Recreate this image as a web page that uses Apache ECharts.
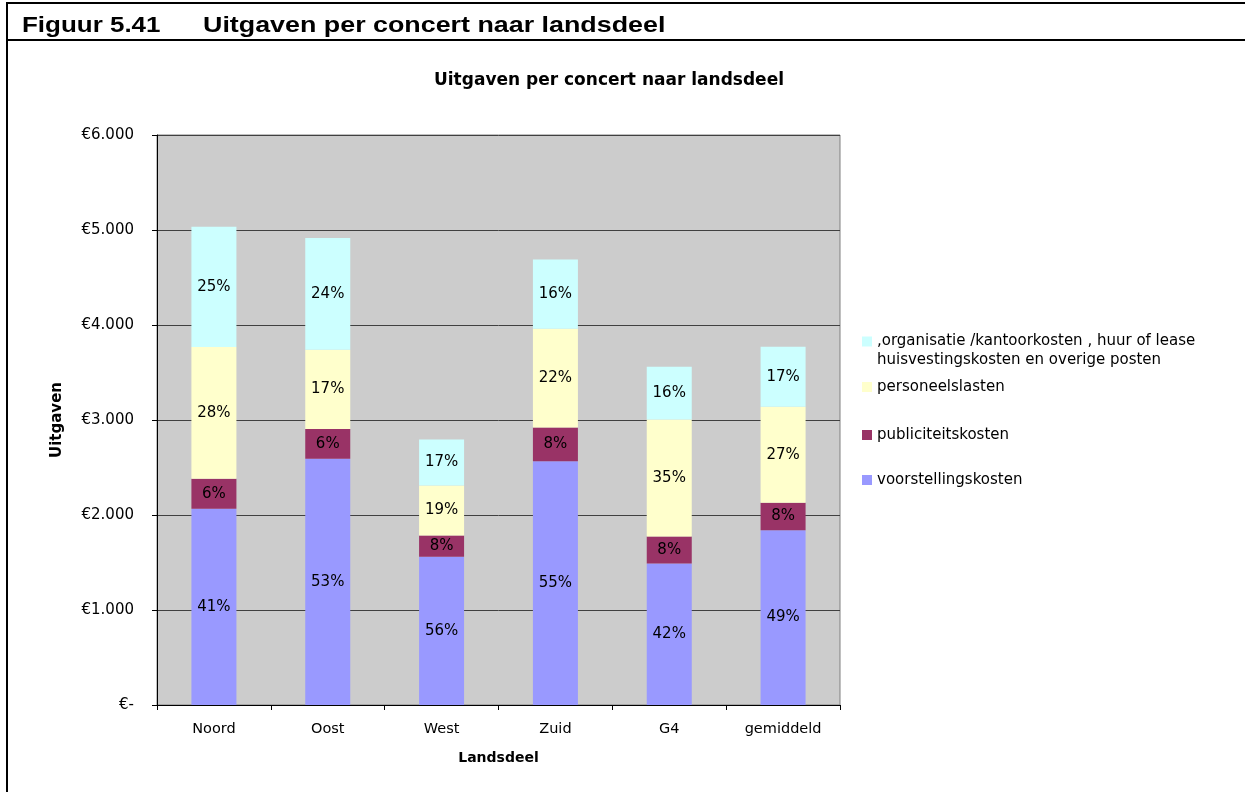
<!DOCTYPE html>
<html>
<head>
<meta charset="utf-8">
<script src="https://cdn.jsdelivr.net/npm/echarts@6/dist/echarts.min.js"></script>
<style>
html,body{margin:0;padding:0;background:#fff;}
#chart{width:1245px;height:792px;}
</style>
</head>
<body>
<div id="chart"></div>
<script>
const categories = ['Noord', 'Oost', 'West', 'Zuid', 'G4', 'gemiddeld'];
const voorstellingskosten = [2066, 2593, 1560, 2565, 1490, 1840];
const publiciteitskosten = [316, 312, 225, 355, 285, 290];
const personeelslasten = [1386, 835, 525, 1040, 1230, 1010];
const organisatiekosten = [1267, 1176, 485, 730, 555, 630];
const seriesNames = [
  'voorstellingskosten',
  'publiciteitskosten',
  'personeelslasten',
  ',organisatie /kantoorkosten , huur of lease\nhuisvestingskosten en overige posten'
];
const seriesColors = ['#9999FF', '#993366', '#FFFFCC', '#CCFFFF'];
const yMin = 0, yMax = 6000, yStep = 1000;

const seriesData = [voorstellingskosten, publiciteitskosten, personeelslasten, organisatiekosten];
const totals = categories.map((c, i) => seriesData.reduce((s, arr) => s + arr[i], 0));

const FONT = 'DejaVu Sans, Verdana, sans-serif';

const chart = echarts.init(document.getElementById('chart'), null, {renderer: 'canvas'});

const series = seriesData.map((arr, k) => ({
  name: seriesNames[k],
  type: 'bar',
  stack: 'total',
  barWidth: 45,
  data: arr,
  itemStyle: {color: seriesColors[k]},
  label: {
    show: true,
    position: 'inside',
    color: '#000',
    fontFamily: FONT,
    fontSize: 15,
    formatter: p => Math.round(p.value / totals[p.dataIndex] * 100) + '%'
  },
  emphasis: {disabled: true}
}));

function legendAt(name, top, extra) {
  return Object.assign({
    data: [name],
    orient: 'vertical',
    left: 862,
    top: top,
    padding: 0,
    icon: 'rect',
    itemWidth: 10,
    itemHeight: 10,
    selectedMode: false,
    textStyle: {color: '#000', fontFamily: FONT, fontSize: 15, lineHeight: 16}
  }, extra || {});
}

const option = {
  backgroundColor: '#fff',
  animation: false,
  graphic: [
    {type: 'rect', shape: {x: 7, y: 3, width: 1300, height: 900}, style: {fill: 'none', stroke: '#000', lineWidth: 2}, silent: true},
    {type: 'line', shape: {x1: 7, y1: 40, x2: 1245, y2: 40}, style: {stroke: '#000', lineWidth: 2}, silent: true},
    {type: 'text', x: 22, y: 26, scaleX: 1.18, style: {text: 'Figuur 5.41', font: 'bold 22px "Liberation Sans", Arial, sans-serif', fill: '#000', align: 'left', verticalAlign: 'middle', textAlign: 'left', textVerticalAlign: 'middle'}, silent: true},
    {type: 'text', x: 203, y: 26, scaleX: 1.22, style: {text: 'Uitgaven per concert naar landsdeel', font: 'bold 22px "Liberation Sans", Arial, sans-serif', fill: '#000', align: 'left', verticalAlign: 'middle', textAlign: 'left', textVerticalAlign: 'middle'}, silent: true},
    {type: 'text', x: 609, y: 81, style: {text: 'Uitgaven per concert naar landsdeel', font: 'bold 17px ' + FONT, fill: '#000', align: 'center', verticalAlign: 'middle', textAlign: 'center', textVerticalAlign: 'middle'}, silent: true}
  ],
  legend: [
    legendAt(seriesNames[3], 313, {
      formatter: n => '\n' + n,
      textStyle: {color: '#000', fontFamily: FONT, fontSize: 15, lineHeight: 19}
    }),
    legendAt(seriesNames[2], 379),
    legendAt(seriesNames[1], 427),
    legendAt(seriesNames[0], 472)
  ],
  grid: {
    left: 157, top: 135, right: 405, bottom: 87,
    show: true, backgroundColor: '#CCCCCC', borderColor: '#808080', borderWidth: 1,
    containLabel: false
  },
  xAxis: {
    type: 'category',
    data: categories,
    name: 'Landsdeel',
    nameLocation: 'middle',
    nameGap: 46,
    nameTextStyle: {fontFamily: FONT, fontSize: 14, fontWeight: 'bold', color: '#000'},
    axisLine: {lineStyle: {color: '#000', width: 1}},
    axisTick: {show: true, alignWithLabel: false, length: 5, lineStyle: {color: '#000'}},
    axisLabel: {color: '#000', fontFamily: FONT, fontSize: 14.5, margin: 17},
    splitLine: {show: false}
  },
  yAxis: {
    type: 'value',
    min: yMin, max: yMax, interval: yStep,
    name: 'Uitgaven',
    nameLocation: 'middle',
    nameRotate: 90,
    nameGap: 92,
    nameTextStyle: {fontFamily: FONT, fontSize: 15, fontWeight: 'bold', color: '#000'},
    axisLine: {show: true, lineStyle: {color: '#000', width: 1}},
    axisTick: {show: true, length: 5, lineStyle: {color: '#000'}},
    axisLabel: {
      color: '#000', fontFamily: FONT, fontSize: 15, margin: 23,
      formatter: v => v === 0 ? '€-' : '€' + (v / 1000) + '.000'
    },
    splitLine: {show: true, lineStyle: {color: '#404040', width: 1}}
  },
  series: series
};
chart.setOption(option);
</script>
</body>
</html>
